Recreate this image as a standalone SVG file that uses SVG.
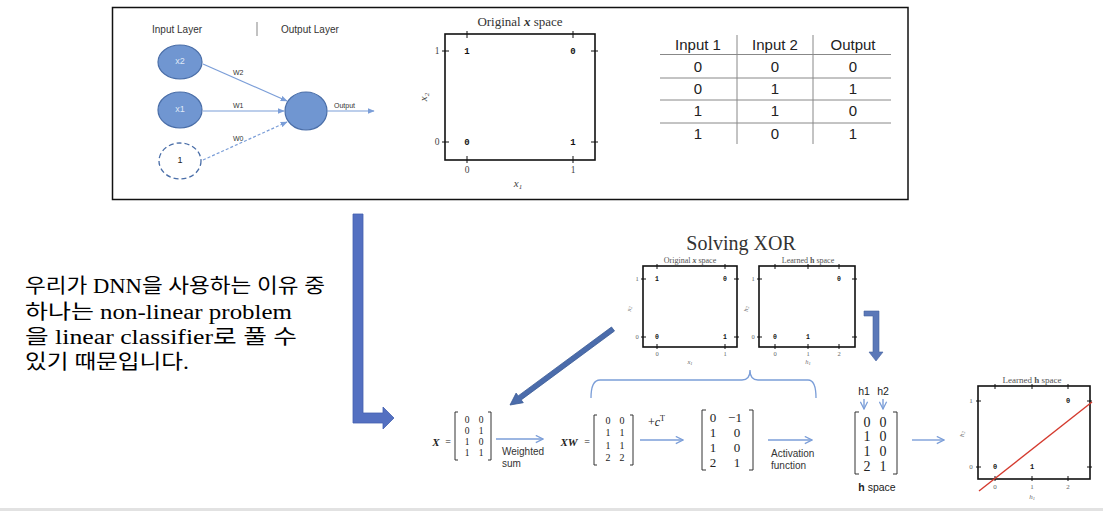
<svg xmlns="http://www.w3.org/2000/svg" width="1103" height="511" viewBox="0 0 1103 511">
<defs>
<style>
.sans{font-family:"Liberation Sans",Arial,sans-serif}
.serif{font-family:"Liberation Serif","Times New Roman",serif}
.mono{font-family:"Liberation Mono",monospace;font-weight:bold}
.frame{fill:none;stroke:#111;stroke-width:1.6}
.tick{stroke:#111;stroke-width:1}
.nn{fill:#7096d1;stroke:#4a6ea8;stroke-width:1.2}
.lnk{stroke:#7b9ed8;stroke-width:1.2;fill:none}
.flow{stroke:#7b9ed8;stroke-width:1.4;fill:none}
.grid{stroke:#888;stroke-width:1}
.brk{fill:none;stroke:#333;stroke-width:1}
</style>
<marker id="ah" viewBox="0 0 10 10" refX="9" refY="5" markerWidth="7" markerHeight="7" orient="auto" markerUnits="userSpaceOnUse">
<path d="M0,1 L10,5 L0,9 Z" fill="#7b9ed8"/>
</marker>
<marker id="av" viewBox="0 0 10 10" refX="9" refY="5" markerWidth="9" markerHeight="9" orient="auto" markerUnits="userSpaceOnUse">
<path d="M1,1 L9,5 L1,9" fill="none" stroke="#7b9ed8" stroke-width="1.4"/>
</marker>
</defs>
<rect width="1103" height="511" fill="#fff"/>
<rect x="0" y="508" width="1103" height="3" fill="#e2e2e2"/>

<!-- top box -->
<g id="top-panel">
<rect x="112.5" y="7.5" width="795.5" height="192" fill="#fff" stroke="#111" stroke-width="1.5"/>
</g>

<!-- neural net -->
<g id="nn-headers" class="sans" font-size="10" fill="#333">
<text x="152" y="33">Input Layer</text>
<line x1="257" y1="22" x2="257" y2="36" stroke="#999" stroke-width="1.2"/>
<text x="281" y="33">Output Layer</text>
</g>
<g id="node-x2"><ellipse class="nn" cx="180" cy="62" rx="22" ry="17"/><text class="sans" x="180" y="62" font-size="9" fill="#dfe8f7" text-anchor="middle" dominant-baseline="middle">x2</text></g>
<g id="node-x1"><ellipse class="nn" cx="180" cy="110" rx="22" ry="18"/><text class="sans" x="180" y="110" font-size="9" fill="#dfe8f7" text-anchor="middle" dominant-baseline="middle">x1</text></g>
<g id="node-bias"><ellipse cx="180" cy="161" rx="21" ry="18" fill="#fff" stroke="#4a6ea8" stroke-width="1.3" stroke-dasharray="5,3"/><text class="sans" x="180" y="161" font-size="9" fill="#222" text-anchor="middle" dominant-baseline="middle">1</text></g>
<g id="node-out"><ellipse class="nn" cx="306" cy="111" rx="21" ry="19"/></g>

<!-- top plot -->
<g id="plot-orig">
<text class="serif" x="520" y="26" font-size="13" fill="#333" text-anchor="middle">Original <tspan font-weight="bold" font-style="italic">x</tspan> space</text>
<rect class="frame" x="445" y="34" width="150" height="126"/>
<g class="tick">
<line x1="467" y1="31" x2="467" y2="38"/><line x1="573" y1="31" x2="573" y2="38"/>
<line x1="467" y1="156" x2="467" y2="163"/><line x1="573" y1="156" x2="573" y2="163"/>
<line x1="442" y1="51" x2="449" y2="51"/><line x1="442" y1="142" x2="449" y2="142"/>
<line x1="591" y1="51" x2="598" y2="51"/><line x1="591" y1="142" x2="598" y2="142"/>
</g>
<g class="serif" font-size="9.5" fill="#444" text-anchor="middle">
<text x="437" y="54">1</text><text x="437" y="145">0</text>
<text x="467" y="173">0</text><text x="573" y="173">1</text>
<text x="518" y="187" font-style="italic" font-size="11">x<tspan font-size="7" dy="2">1</tspan></text>
<text x="0" y="0" font-style="italic" font-size="11" transform="translate(427,97) rotate(-90)">x<tspan font-size="7" dy="2">2</tspan></text>
</g>
<g class="mono" font-size="9" fill="#111" text-anchor="middle">
<text x="467" y="54">1</text><text x="573" y="54">0</text>
<text x="467" y="145">0</text><text x="573" y="145">1</text>
</g>
</g>

<!-- truth table -->
<g id="truth-table" class="sans" font-size="15" fill="#222" text-anchor="middle">
<text x="698" y="50">Input 1</text><text x="775" y="50">Input 2</text><text x="853" y="50">Output</text>
<text x="698" y="72">0</text><text x="775" y="72">0</text><text x="853" y="72">0</text>
<text x="698" y="94">0</text><text x="775" y="94">1</text><text x="853" y="94">1</text>
<text x="698" y="116">1</text><text x="775" y="116">1</text><text x="853" y="116">0</text>
<text x="698" y="139">1</text><text x="775" y="139">0</text><text x="853" y="139">1</text>
<line class="grid" x1="660" y1="54.5" x2="891" y2="54.5" stroke="#666"/>
<line class="grid" x1="660" y1="78" x2="891" y2="78"/>
<line class="grid" x1="660" y1="100" x2="891" y2="100"/>
<line class="grid" x1="660" y1="123" x2="891" y2="123"/>
<line class="grid" x1="737" y1="35" x2="737" y2="144"/>
<line class="grid" x1="813" y1="35" x2="813" y2="144"/>
</g>

<!-- Korean text -->
<g id="caption" font-family="'Liberation Serif','Noto Sans CJK KR',serif" font-size="20" fill="#000">
<text x="25" y="293" textLength="300" lengthAdjust="spacingAndGlyphs">우리가 DNN을 사용하는 이유 중</text>
<text x="25" y="319" textLength="267" lengthAdjust="spacingAndGlyphs">하나는 non-linear problem</text>
<text x="25" y="344" textLength="272" lengthAdjust="spacingAndGlyphs">을 linear classifier로 풀 수</text>
<text x="25" y="369" textLength="164" lengthAdjust="spacingAndGlyphs">있기 때문입니다.</text>
</g>

<!-- Solving XOR -->
<g id="solving-xor">
<text class="serif" x="741" y="250" font-size="20" fill="#333" text-anchor="middle">Solving XOR</text>
</g>
<g id="plot-small-orig">
<text class="serif" x="690" y="263" font-size="8" fill="#555" text-anchor="middle">Original <tspan font-weight="bold" font-style="italic">x</tspan> space</text>
<rect class="frame" x="643" y="266" width="94" height="81" stroke-width="1.3"/>
<g class="tick">
<line x1="657" y1="264" x2="657" y2="269"/><line x1="725" y1="264" x2="725" y2="269"/>
<line x1="657" y1="344" x2="657" y2="349"/><line x1="725" y1="344" x2="725" y2="349"/>
<line x1="641" y1="279" x2="646" y2="279"/><line x1="641" y1="337" x2="646" y2="337"/>
<line x1="734" y1="279" x2="739" y2="279"/><line x1="734" y1="337" x2="739" y2="337"/>
</g>
<g class="serif" font-size="6.5" fill="#666" text-anchor="middle">
<text x="637" y="281">1</text><text x="637" y="339">0</text>
<text x="657" y="356">0</text><text x="725" y="356">1</text>
<text x="690" y="364" font-style="italic">x<tspan font-size="4.5" dy="1">1</tspan></text>
<text font-style="italic" transform="translate(631,309) rotate(-90)">x<tspan font-size="4.5" dy="1">2</tspan></text>
</g>
<g class="mono" font-size="6.5" fill="#111" text-anchor="middle">
<text x="657" y="281">1</text><text x="725" y="281">0</text>
<text x="657" y="339">0</text><text x="725" y="339">1</text>
</g>
</g>
<g id="plot-small-learned">
<text class="serif" x="808" y="263" font-size="8" fill="#555" text-anchor="middle">Learned <tspan font-weight="bold">h</tspan> space</text>
<rect class="frame" x="759" y="266" width="96" height="81" stroke-width="1.3"/>
<g class="tick">
<line x1="775" y1="264" x2="775" y2="269"/><line x1="808" y1="264" x2="808" y2="269"/><line x1="839" y1="264" x2="839" y2="269"/>
<line x1="775" y1="344" x2="775" y2="349"/><line x1="808" y1="344" x2="808" y2="349"/><line x1="839" y1="344" x2="839" y2="349"/>
<line x1="757" y1="279" x2="762" y2="279"/><line x1="757" y1="337" x2="762" y2="337"/>
<line x1="852" y1="279" x2="857" y2="279"/><line x1="852" y1="337" x2="857" y2="337"/>
</g>
<g class="serif" font-size="6.5" fill="#666" text-anchor="middle">
<text x="753" y="281">1</text><text x="753" y="339">0</text>
<text x="775" y="356">0</text><text x="808" y="356">1</text><text x="839" y="356">2</text>
<text x="808" y="364" font-style="italic">h<tspan font-size="4.5" dy="1">1</tspan></text>
<text font-style="italic" transform="translate(748,309) rotate(-90)">h<tspan font-size="4.5" dy="1">2</tspan></text>
</g>
<g class="mono" font-size="6.5" fill="#111" text-anchor="middle">
<text x="839" y="281">0</text>
<text x="775" y="339">0</text><text x="808" y="339">1</text>
</g>
</g>

<!-- matrices -->
<g id="matrix-X" class="serif" fill="#222">
<text x="436" y="446" font-size="11" font-weight="bold" font-style="italic" text-anchor="middle">X</text>
<text x="448" y="445" font-size="10" text-anchor="middle">=</text>
<path class="brk" d="M458,412 L455,412 L455,460 L458,460"/>
<path class="brk" d="M488,412 L491,412 L491,460 L488,460"/>
<g font-size="9.5" text-anchor="middle">
<text x="467" y="423">0</text><text x="481" y="423">0</text>
<text x="467" y="434">0</text><text x="481" y="434">1</text>
<text x="467" y="445">1</text><text x="481" y="445">0</text>
<text x="467" y="456">1</text><text x="481" y="456">1</text>
</g>
</g>
<g id="label-weighted" class="sans" font-size="10" fill="#333">
<text x="502" y="455">Weighted</text><text x="502" y="467">sum</text>
</g>
<g id="matrix-XW" class="serif" fill="#222">
<text x="569" y="446" font-size="11" font-weight="bold" font-style="italic" text-anchor="middle">XW</text>
<text x="587" y="445" font-size="10" text-anchor="middle">=</text>
<path class="brk" d="M597,415 L594,415 L594,465 L597,465"/>
<path class="brk" d="M630,415 L633,415 L633,465 L630,465"/>
<g font-size="10" text-anchor="middle">
<text x="608" y="424">0</text><text x="622" y="424">0</text>
<text x="608" y="436">1</text><text x="622" y="436">1</text>
<text x="608" y="449">1</text><text x="622" y="449">1</text>
<text x="608" y="461">2</text><text x="622" y="461">2</text>
</g>
</g>
<g id="label-c" class="serif" font-size="12" fill="#222">
<text x="648" y="426">+<tspan font-style="italic">c</tspan><tspan font-size="8" dy="-5">T</tspan></text>
</g>
<g id="matrix-3" class="serif" fill="#222">
<path class="brk" d="M706,410 L702,410 L702,470 L706,470"/>
<path class="brk" d="M749,410 L753,410 L753,470 L749,470"/>
<g font-size="13" text-anchor="middle">
<text x="713" y="422">0</text><text x="735" y="422">−1</text>
<text x="713" y="437">1</text><text x="737" y="437">0</text>
<text x="713" y="452">1</text><text x="737" y="452">0</text>
<text x="713" y="467">2</text><text x="737" y="467">1</text>
</g>
</g>
<g id="label-activation" class="sans" font-size="10" fill="#333">
<text x="771" y="457">Activation</text><text x="771" y="469">function</text>
</g>
<g id="matrix-h" fill="#222">
<text class="sans" x="864" y="395" font-size="10.5" text-anchor="middle">h1</text>
<text class="sans" x="883" y="395" font-size="10.5" text-anchor="middle">h2</text>
<path class="brk" d="M859,412 L855,412 L855,474 L859,474"/>
<path class="brk" d="M893,412 L897,412 L897,474 L893,474"/>
<g class="serif" font-size="14" text-anchor="middle">
<text x="867" y="427">0</text><text x="883" y="427">0</text>
<text x="867" y="441">1</text><text x="883" y="441">0</text>
<text x="867" y="456">1</text><text x="883" y="456">0</text>
<text x="867" y="471">2</text><text x="883" y="471">1</text>
</g>
<text class="sans" x="877" y="491" font-size="10.5" text-anchor="middle"><tspan font-weight="bold">h</tspan> space</text>
</g>

<!-- final plot -->
<g id="plot-final">
<text class="serif" x="1032" y="383" font-size="9" fill="#555" text-anchor="middle">Learned <tspan font-weight="bold">h</tspan> space</text>
<rect class="frame" x="978" y="386" width="112" height="93" stroke-width="1.4"/>
<g class="tick">
<line x1="995" y1="384" x2="995" y2="389"/><line x1="1032" y1="384" x2="1032" y2="389"/><line x1="1068" y1="384" x2="1068" y2="389"/>
<line x1="995" y1="476" x2="995" y2="481"/><line x1="1032" y1="476" x2="1032" y2="481"/><line x1="1068" y1="476" x2="1068" y2="481"/>
<line x1="976" y1="401" x2="981" y2="401"/><line x1="976" y1="467" x2="981" y2="467"/>
<line x1="1087" y1="401" x2="1092" y2="401"/><line x1="1087" y1="467" x2="1092" y2="467"/>
</g>
<g class="serif" font-size="7" fill="#666" text-anchor="middle">
<text x="971" y="403">1</text><text x="971" y="469">0</text>
<text x="995" y="489">0</text><text x="1032" y="489">1</text><text x="1068" y="489">2</text>
<text x="1032" y="499" font-style="italic">h<tspan font-size="4.5" dy="1">1</tspan></text>
<text font-style="italic" transform="translate(964,434) rotate(-90)">h<tspan font-size="4.5" dy="1">2</tspan></text>
</g>
<g class="mono" font-size="7" fill="#111" text-anchor="middle">
<text x="1068" y="403">0</text>
<text x="995" y="469">0</text><text x="1032" y="469">1</text>
</g>
<line x1="979" y1="491" x2="1092" y2="402" stroke="#d43a2e" stroke-width="1.4"/>
</g>

<!-- connectors -->
<g id="connectors">
<line class="lnk" x1="203" y1="64" x2="287" y2="101" marker-end="url(#ah)"/>
<line class="lnk" x1="203" y1="111" x2="284" y2="111" marker-end="url(#ah)"/>
<line class="lnk" x1="203" y1="160" x2="287" y2="122" stroke-dasharray="3,2" marker-end="url(#ah)"/>
<line class="lnk" x1="327" y1="111" x2="374" y2="111" marker-end="url(#ah)"/>
<g class="sans" font-size="7" fill="#333">
<text x="233" y="75">W2</text><text x="233" y="108">W1</text><text x="233" y="141">W0</text><text x="334" y="108">Output</text>
</g>
<polygon points="353,214 363,214 363,413 383,413 383,407 394,418 383,429 383,423 353,423" fill="#5470c1" stroke="#4461b0" stroke-width="0.8"/>
<polygon points="614.5,331 521.2,399.9 523.3,402.7 510,405 516.1,393.1 518.2,395.9 611.5,327" fill="#4b6cab" stroke="#3a5a96" stroke-width="0.8"/>
<polygon points="864,311 879,311 879,352 883,352 876,361 869,352 873,352 873,316 864,316" fill="#5b78b8" stroke="#4461a0" stroke-width="0.6"/>
<path d="M591,398 Q591,380 600,380 L742,380 Q750,380 750,370 Q750,380 758,380 L808,380 Q816,380 816,398" fill="none" stroke="#7b9ed8" stroke-width="1.3"/>
<line class="flow" x1="496" y1="439" x2="543" y2="439" marker-end="url(#av)"/>
<line class="flow" x1="640" y1="440" x2="683" y2="440" marker-end="url(#av)"/>
<line class="flow" x1="768" y1="440" x2="812" y2="440" marker-end="url(#av)"/>
<line class="flow" x1="912" y1="440" x2="944" y2="440" marker-end="url(#av)"/>
<line class="flow" x1="864" y1="399" x2="864" y2="409" marker-end="url(#av)"/>
<line class="flow" x1="883" y1="399" x2="883" y2="409" marker-end="url(#av)"/>
</g>
</svg>
